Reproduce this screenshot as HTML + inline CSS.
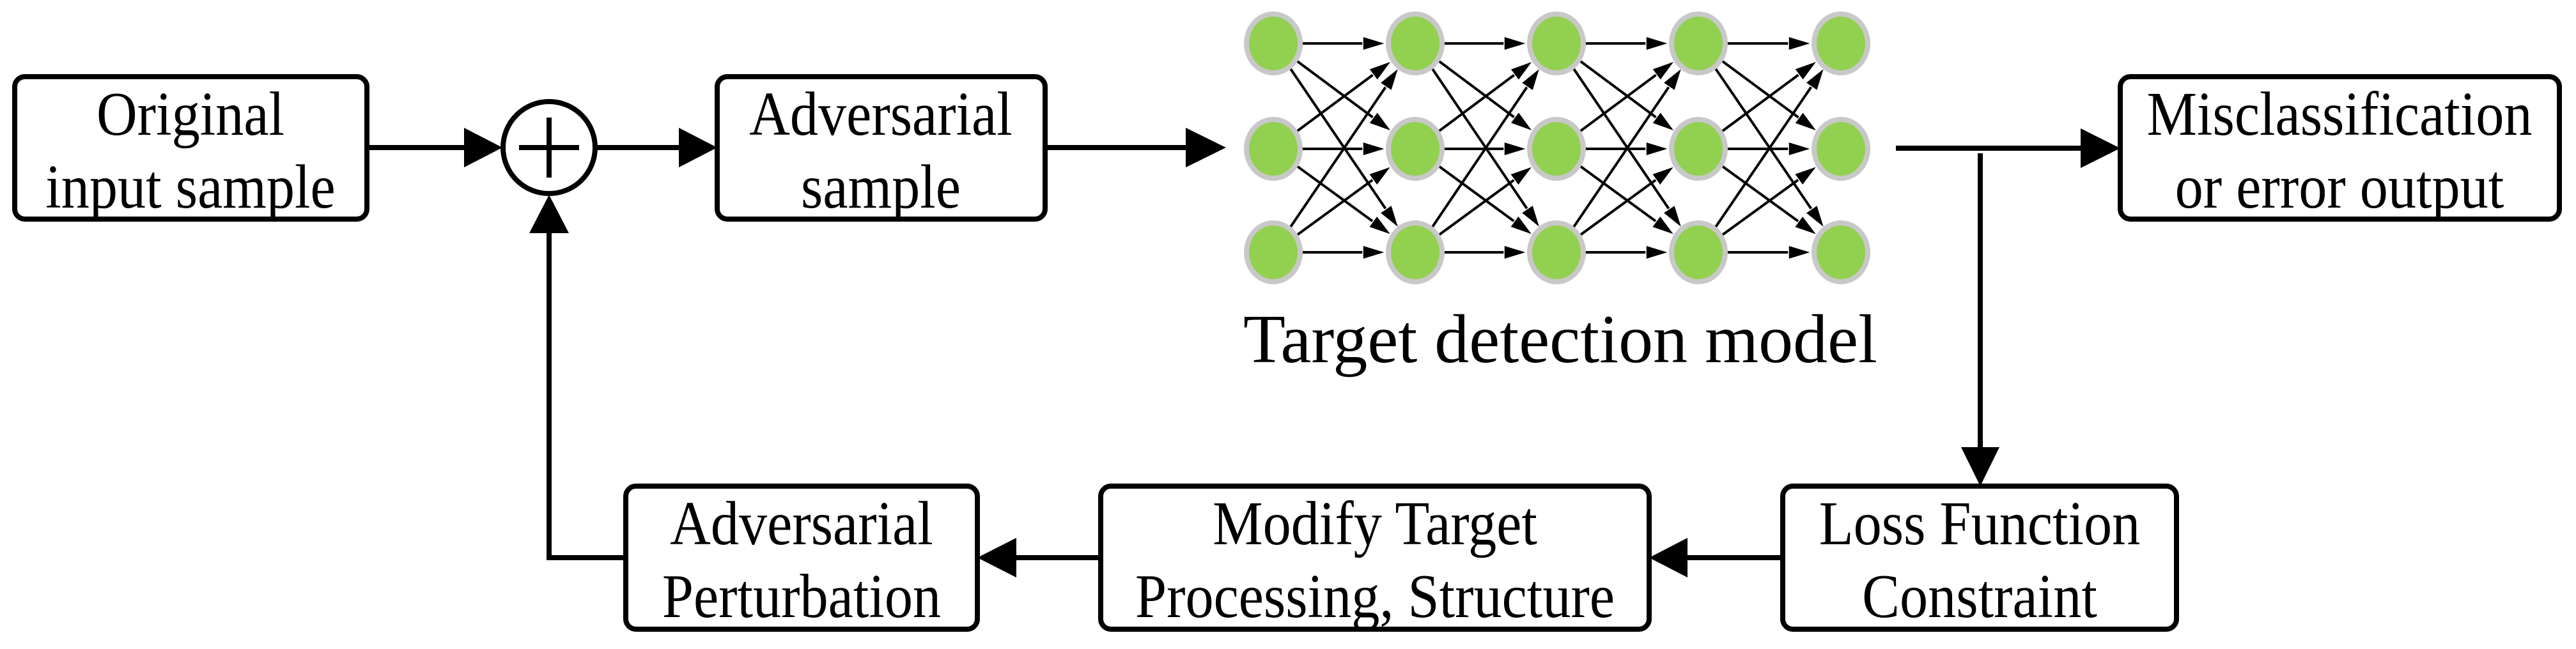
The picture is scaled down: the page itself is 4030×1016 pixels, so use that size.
<!DOCTYPE html>
<html><head><meta charset="utf-8"><style>
html,body{margin:0;padding:0;background:#fff;}
svg{display:block}
</style></head><body>
<svg width="4030" height="1016" viewBox="0 0 4030 1016" xmlns="http://www.w3.org/2000/svg">
<g fill="#fff" stroke="#000" stroke-width="8">
<rect x="23" y="120" width="551" height="223" rx="16"/>
<rect x="1122" y="120" width="513" height="223" rx="16"/>
<rect x="3317" y="120" width="687" height="223" rx="16"/>
<rect x="2789" y="761" width="616" height="224" rx="16"/>
<rect x="1722" y="761" width="858" height="224" rx="16"/>
<rect x="979" y="761" width="550" height="224" rx="16"/>
<circle cx="859" cy="231" r="72"/>
</g>
<g stroke="#000" stroke-width="8" fill="none">
<line x1="812" y1="231" x2="906" y2="231"/>
<line x1="859" y1="184" x2="859" y2="278"/>
<line x1="574" y1="231" x2="735" y2="231"/>
<line x1="931" y1="231" x2="1070" y2="231"/>
<line x1="1635" y1="231" x2="1860" y2="231"/>
<line x1="2966" y1="232" x2="3260" y2="232"/>
<line x1="3098" y1="240" x2="3098" y2="705"/>
<line x1="2789" y1="873" x2="2640" y2="873"/>
<line x1="1722" y1="873" x2="1585" y2="873"/>
<polyline points="979,873 859,873 859,360"/>
</g>
<g fill="#000">
<polygon points="726,200 786,231 726,262"/>
<polygon points="1062,200 1122,231 1062,262"/>
<polygon points="1855,200 1918,231 1855,262"/>
<polygon points="3255,201 3317,232 3255,263"/>
<polygon points="3068,700 3128,700 3098,761"/>
<polygon points="2640,842 2640,904 2580,873"/>
<polygon points="1590,842 1590,904 1529,873"/>
<polygon points="828,365 890,365 859,305"/>
</g>
<script>
(function(){
var xs=[1992,2214,2435,2657,2880], ys=[68,233,395], r=46;
var ns="http://www.w3.org/2000/svg", svg=document.querySelector('svg');
var g=document.createElementNS(ns,'g');svg.appendChild(g);
for(var i=0;i<4;i++)for(var a=0;a<3;a++)for(var b=0;b<3;b++){
 var x1=xs[i],y1=ys[a],x2=xs[i+1],y2=ys[b];
 var dx=x2-x1,dy=y2-y1,L=Math.sqrt(dx*dx+dy*dy),ux=dx/L,uy=dy/L;
 var sx=x1+ux*r*0.9, sy=y1+uy*r*0.9, ex=x2-ux*(r), ey=y2-uy*(r);
 var l=document.createElementNS(ns,'line');
 l.setAttribute('x1',sx);l.setAttribute('y1',sy);l.setAttribute('x2',ex-ux*25);l.setAttribute('y2',ey-uy*25);
 l.setAttribute('stroke','#000');l.setAttribute('stroke-width','4');g.appendChild(l);
 var px=-uy,py=ux,h=36,w=11;
 var p=document.createElementNS(ns,'polygon');
 p.setAttribute('points',ex+','+ey+' '+(ex-ux*h+px*w)+','+(ey-uy*h+py*w)+' '+(ex-ux*h-px*w)+','+(ey-uy*h-py*w));
 p.setAttribute('fill','#000');p.setAttribute('stroke','#fff');p.setAttribute('stroke-width','1.5');g.appendChild(p);
}
for(var i=0;i<5;i++)for(var a=0;a<3;a++){
 var c=document.createElementNS(ns,'ellipse');
 c.setAttribute('cx',xs[i]);c.setAttribute('cy',ys[a]);c.setAttribute('rx',42);c.setAttribute('ry',46);
 c.setAttribute('fill','#92d050');c.setAttribute('stroke','#c8c8c8');c.setAttribute('stroke-width','8');g.appendChild(c);
}
})();
</script>
<g font-size="97" text-anchor="middle" font-family="'Liberation Serif','Times New Roman',serif" fill="#000">
<text transform="translate(298,211) scale(0.91,1)">Original</text>
<text transform="translate(298,325) scale(0.91,1)">input sample</text>
<text transform="translate(1378,211) scale(0.91,1)">Adversarial</text>
<text transform="translate(1378,325) scale(0.91,1)">sample</text>
<text transform="translate(3660,211) scale(0.91,1)">Misclassification</text>
<text transform="translate(3660,325) scale(0.91,1)">or error output</text>
<text transform="translate(3097,852) scale(0.91,1)">Loss Function</text>
<text transform="translate(3097,966) scale(0.91,1)">Constraint</text>
<text transform="translate(2151,852) scale(0.91,1)">Modify Target</text>
<text transform="translate(2151,966) scale(0.91,1)">Processing, Structure</text>
<text transform="translate(1254,852) scale(0.91,1)">Adversarial</text>
<text transform="translate(1254,966) scale(0.91,1)">Perturbation</text>
<text x="2441" y="567" font-size="108">Target detection model</text>
</g>
</svg>
</body></html>
